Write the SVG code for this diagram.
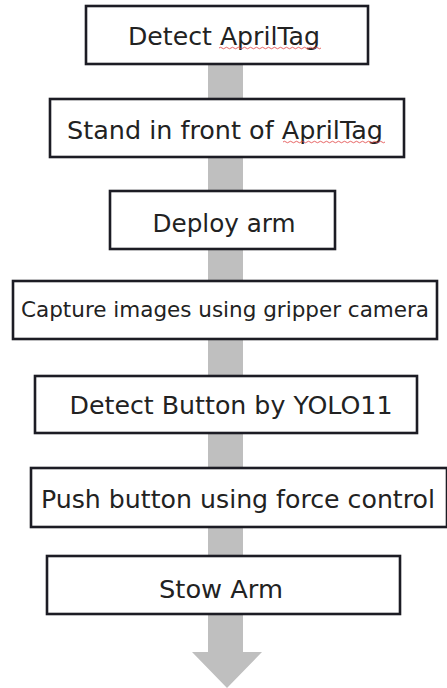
<svg xmlns="http://www.w3.org/2000/svg" width="447" height="688" viewBox="0 0 447 688">
<style>
.box{fill:#fff;stroke:#1c1c24;stroke-width:2.6}
.lbl{font-family:"DejaVu Sans",Verdana,sans-serif;font-size:24px;fill:#222;text-anchor:middle}
.conn{fill:#bfbfbf}
.sq{fill:none;stroke:#e04040;stroke-width:0.8}
</style>
<rect width="447" height="688" fill="#fff"/>
<g id="connectors">
<rect class="conn" x="208" y="64" width="35" height="36"/>
<rect class="conn" x="208" y="157" width="35" height="35"/>
<rect class="conn" x="208" y="249" width="35" height="33"/>
<rect class="conn" x="208" y="339" width="35" height="38"/>
<rect class="conn" x="208" y="433" width="35" height="36"/>
<rect class="conn" x="208" y="527" width="35" height="30"/>
<polygon class="conn" points="208,614 243,614 243,652 262,652 227,688 192,652 208,652"/>
</g>
<g id="n1">
<rect class="box" x="86" y="6" width="282" height="58"/>
<text class="lbl" x="224" y="45" textLength="192" lengthAdjust="spacingAndGlyphs">Detect AprilTag</text>
<path class="sq" d="M219,48 q1.5,-1.5 3,0 t3,0 t3,0 t3,0 t3,0 t3,0 t3,0 t3,0 t3,0 t3,0 t3,0 t3,0 t3,0 t3,0 t3,0 t3,0 t3,0 t3,0 t3,0 t3,0 t3,0 t3,0 t3,0 t3,0 t3,0 t3,0 t3,0 t3,0 t3,0 t3,0 t3,0 t3,0 t3,0 t3,0"/>
</g>
<g id="n2">
<rect class="box" x="50" y="99" width="354" height="58"/>
<text class="lbl" x="225" y="139" textLength="316" lengthAdjust="spacingAndGlyphs">Stand in front of AprilTag</text>
<path class="sq" d="M283,142 q1.5,-1.5 3,0 t3,0 t3,0 t3,0 t3,0 t3,0 t3,0 t3,0 t3,0 t3,0 t3,0 t3,0 t3,0 t3,0 t3,0 t3,0 t3,0 t3,0 t3,0 t3,0 t3,0 t3,0 t3,0 t3,0 t3,0 t3,0 t3,0 t3,0 t3,0 t3,0 t3,0 t3,0 t3,0 t3,0"/>
</g>
<g id="n3">
<rect class="box" x="110" y="191" width="225" height="58"/>
<text class="lbl" x="224" y="232" textLength="143" lengthAdjust="spacingAndGlyphs">Deploy arm</text>
</g>
<g id="n4">
<rect class="box" x="13" y="281" width="424" height="58"/>
<text class="lbl" x="225" y="317" style="font-size:22px" textLength="408" lengthAdjust="spacingAndGlyphs">Capture images using gripper camera</text>
</g>
<g id="n5">
<rect class="box" x="35" y="376" width="382" height="57"/>
<text class="lbl" x="231" y="414" textLength="323" lengthAdjust="spacingAndGlyphs">Detect Button by YOLO11</text>
</g>
<g id="n6">
<rect class="box" x="31" y="468" width="416" height="59"/>
<text class="lbl" x="238" y="508" textLength="394" lengthAdjust="spacingAndGlyphs">Push button using force control</text>
</g>
<g id="n7">
<rect class="box" x="47" y="556" width="353" height="58"/>
<text class="lbl" x="221" y="598" textLength="124" lengthAdjust="spacingAndGlyphs">Stow Arm</text>
</g>
</svg>
